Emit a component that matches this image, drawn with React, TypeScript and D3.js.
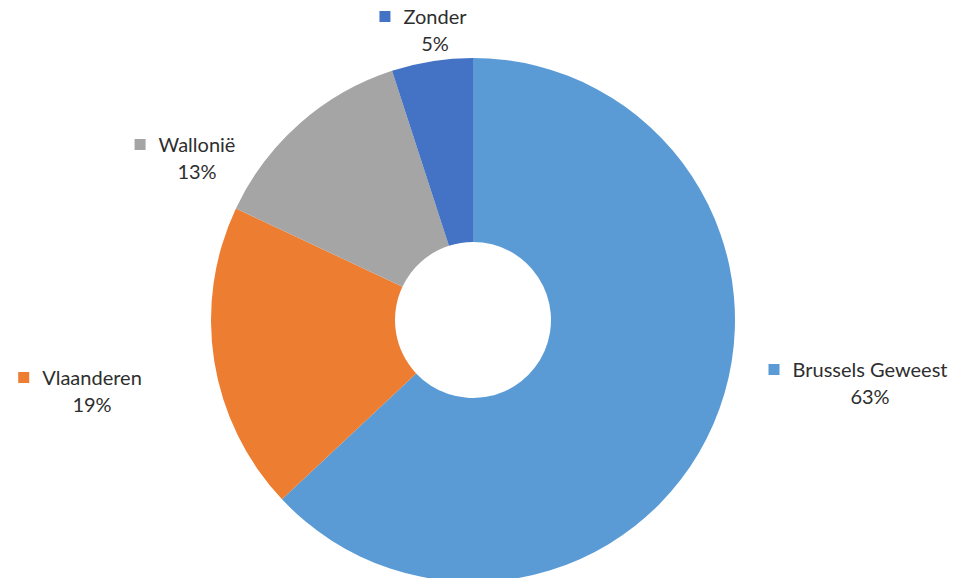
import React, { useRef, useEffect } from 'react';
import * as d3 from 'd3';

const categories = ['Brussels Geweest', 'Vlaanderen', 'Wallonië', 'Zonder'];
const values = [63, 19, 13, 5];
const colors = ['#5B9BD5', '#ED7D31', '#A5A5A5', '#4472C4'];

// where each data label block is centred (layout, not data)
const labelCentres: [number, number][] = [
  [870, 377],
  [92, 385],
  [197, 152],
  [435, 24],
];

export default function App() {
  const svgRef = useRef<SVGSVGElement | null>(null);

  useEffect(() => {
    document.body.style.margin = '0';
    if (!svgRef.current) return;
    const svg = d3.select(svgRef.current);
    svg.selectAll('*').remove();

    const cx = 473;
    const cy = 320;
    const outer = 262;
    const inner = 78;

    const pie = d3.pie<number>().sort(null).value(d => d);
    const arc = d3.arc<d3.PieArcDatum<number>>().innerRadius(inner).outerRadius(outer);

    const g = svg.append('g').attr('transform', `translate(${cx},${cy})`);
    g.selectAll('path')
      .data(pie(values))
      .enter().append('path')
      .attr('d', arc)
      .attr('fill', (_, i) => colors[i]);

    const total = d3.sum(values);
    const fmt = (v: number) => `${Math.round((v / total) * 100)}%`;

    categories.forEach((name, i) => {
      const [lx, ly] = labelCentres[i];
      const lg = svg.append('g').attr('font-family', 'Lato, "Open Sans", sans-serif')
        .attr('font-size', '20px').attr('fill', '#2e2e2e');
      const t = lg.append('text')
        .attr('x', lx).attr('y', ly)
        .attr('text-anchor', 'middle')
        .text(name);
      const w = (t.node() as SVGTextElement).getComputedTextLength();
      lg.append('rect')
        .attr('x', lx - w / 2 - 24)
        .attr('y', ly - 13)
        .attr('width', 11).attr('height', 11)
        .attr('fill', colors[i]);
      lg.append('text')
        .attr('x', lx).attr('y', ly + 27)
        .attr('text-anchor', 'middle')
        .text(fmt(values[i]));
    });
  }, []);

  return (
    <svg
      ref={svgRef}
      width={955}
      height={578}
      style={{ display: 'block', background: '#ffffff' }}
    />
  );
}
